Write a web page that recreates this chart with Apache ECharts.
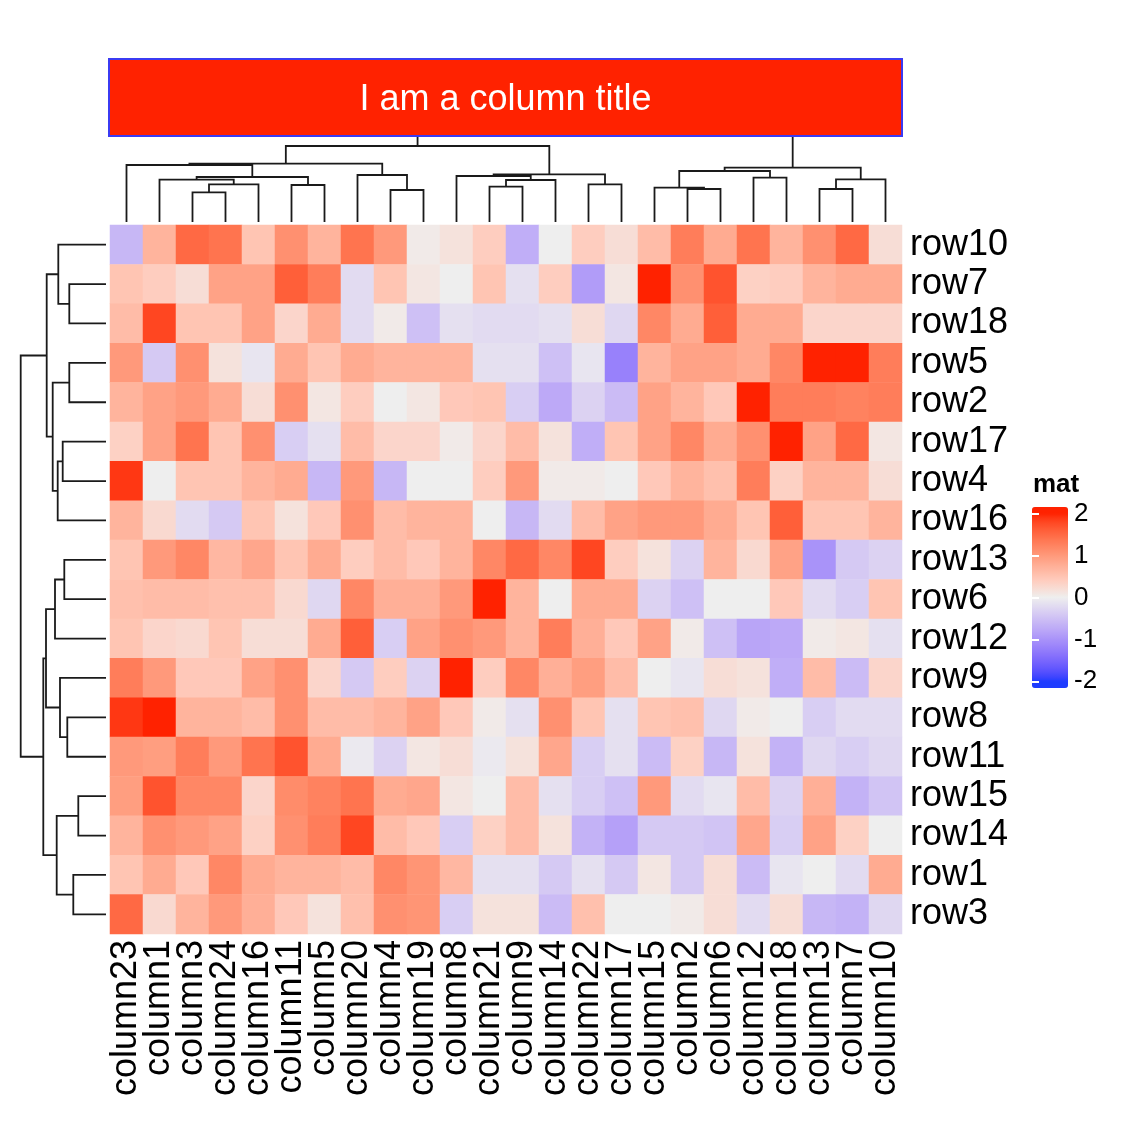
<!DOCTYPE html>
<html><head><meta charset="utf-8">
<script src="https://cdn.jsdelivr.net/npm/echarts@6/dist/echarts.min.js"></script>
<style>html,body{margin:0;padding:0;background:#fff}#c{width:1131px;height:1133px}</style>
</head><body><div id="c"></div>
<script>
// ---------------- data ----------------
const colNames = ['column23','column1','column3','column24','column16','column11','column5','column20','column4','column19','column8','column21','column9','column14','column22','column17','column15','column2','column6','column12','column18','column13','column7','column10'];
const rowNames = ['row10','row7','row18','row5','row2','row17','row4','row16','row13','row6','row12','row9','row8','row11','row15','row14','row1','row3'];

const row10 = [-0.6,0.7,1.5,1.4,0.5,1.1,0.7,1.4,1.0,0.05,0.15,0.4,-0.7,0.0,0.4,0.2,0.6,1.3,0.8,1.4,0.7,1.1,1.5,0.2];
const row7  = [0.5,0.4,0.2,0.9,0.9,1.6,1.3,-0.2,0.5,0.1,0.0,0.5,-0.15,0.4,-0.9,0.1,2.1,1.1,1.7,0.35,0.4,0.7,0.8,0.8];
const row18 = [0.6,1.8,0.5,0.5,0.9,0.3,0.8,-0.2,0.05,-0.5,-0.15,-0.2,-0.2,-0.15,0.2,-0.25,1.2,0.8,1.6,0.8,0.8,0.3,0.3,0.3];
const row5  = [1.0,-0.4,1.1,0.15,-0.1,0.8,0.5,0.8,0.7,0.7,0.7,-0.15,-0.15,-0.5,-0.1,-1.2,0.7,0.9,0.9,0.8,1.2,2.1,2.1,1.3];
const row2  = [0.7,0.9,1.0,0.8,0.2,1.1,0.1,0.4,0.0,0.1,0.45,0.5,-0.35,-0.75,-0.3,-0.55,0.9,0.7,0.45,2.1,1.3,1.3,1.25,1.3];
const row17 = [0.35,0.9,1.4,0.5,1.1,-0.35,-0.15,0.6,0.3,0.3,0.05,0.3,0.6,0.15,-0.7,0.5,0.9,1.2,0.8,1.1,2.1,0.9,1.5,0.1];
const row4  = [1.9,0.0,0.5,0.5,0.7,0.8,-0.6,1.0,-0.6,0.0,0.0,0.4,1.0,0.05,0.05,0.0,0.45,0.7,0.55,1.3,0.35,0.7,0.7,0.2];
const row16 = [0.7,0.25,-0.2,-0.4,0.5,0.15,0.45,1.1,0.6,0.7,0.7,0.0,-0.6,-0.2,0.6,0.9,1.0,1.0,0.8,0.5,1.6,0.5,0.5,0.7];
const row13 = [0.5,1.0,1.2,0.65,0.85,0.5,0.8,0.4,0.6,0.45,0.7,1.2,1.5,1.2,1.8,0.4,0.15,-0.3,0.7,0.25,0.9,-1.0,-0.4,-0.3];
const row6  = [0.55,0.6,0.6,0.55,0.55,0.25,-0.25,1.2,0.75,0.75,1.0,2.0,0.7,0.0,0.8,0.8,-0.3,-0.5,0.0,0.0,0.45,-0.2,-0.35,0.5];
const row12 = [0.5,0.3,0.25,0.5,0.2,0.2,0.8,1.6,-0.35,0.9,1.1,1.0,0.7,1.3,0.75,0.45,0.9,0.05,-0.5,-0.8,-0.75,0.05,0.1,-0.15];
const row9  = [1.3,1.0,0.45,0.45,0.9,1.1,0.3,-0.4,0.4,-0.3,2.0,0.4,1.2,0.75,0.95,0.6,0.0,-0.1,0.2,0.15,-0.7,0.6,-0.55,0.3];
const row8  = [1.9,2.1,0.7,0.7,0.6,1.1,0.6,0.6,0.7,0.9,0.45,0.05,-0.15,1.1,0.5,-0.15,0.5,0.55,-0.25,0.05,0.0,-0.35,-0.2,-0.2];
const row11 = [1.0,0.95,1.3,1.0,1.4,1.7,0.8,-0.05,-0.3,0.1,0.2,-0.05,0.15,0.85,-0.35,-0.15,-0.55,0.35,-0.6,0.15,-0.65,-0.25,-0.35,-0.25];
const row15 = [0.95,1.7,1.2,1.2,0.3,1.15,1.25,1.4,0.8,0.85,0.1,0.0,0.6,-0.15,-0.35,-0.5,1.0,-0.2,-0.1,0.6,-0.3,0.75,-0.65,-0.45];
const row14 = [0.7,1.1,1.0,0.9,0.35,1.1,1.3,1.8,0.6,0.45,-0.35,0.35,0.6,0.15,-0.65,-0.85,-0.4,-0.4,-0.45,0.85,-0.35,0.9,0.35,0.0];
const row1  = [0.5,0.8,0.45,1.2,0.8,0.7,0.7,0.6,1.2,1.05,0.65,-0.15,-0.15,-0.4,-0.15,-0.4,0.1,-0.4,0.2,-0.55,-0.1,0.0,-0.2,0.8];
const row3  = [1.5,0.25,0.7,1.0,0.75,0.45,0.15,0.55,1.1,1.05,-0.35,0.15,0.15,-0.55,0.55,0.0,0.0,0.05,0.2,-0.2,0.2,-0.6,-0.65,-0.25];

// dendrogram merges: negative = leaf -(displayIndex+1), non-negative = earlier merge index
const colMerges = [[-3,-4],[0,-5],[-2,1],[-6,-7],[2,3],[-1,4],[-9,-10],[-8,6],[5,7],[-12,-13],[9,-14],[-11,10],[-15,-16],[11,12],[8,13],
                   [-18,-19],[-17,15],[-20,-21],[16,17],[-22,-23],[19,-24],[18,20],[14,21]];
const colHeights = [29.7,37.7,42.3,37,45,57,32,47,58.3,35.3,42,46,37.7,47.7,76,33,34.3,44.3,51,33,42.7,54.3,86];
const rowMerges = [[-2,-3],[-1,0],[-4,-5],[-6,-7],[3,-8],[2,4],[1,5],[-9,-10],[7,-11],[-13,-14],[-12,9],[8,10],[-15,-16],[-17,-18],[12,13],[11,14],[6,15]];
const rowHeights = [36.7,47.7,36.7,43.3,48.3,53.3,59.3,41.7,51,38.7,46,60,27.7,32.7,49.3,62.7,85.3];

const legendTicks = [-2,-1,0,1,2];
const legendName = 'mat';
const titleText = 'I am a column title';

const matrix = [row10,row7,row18,row5,row2,row17,row4,row16,row13,row6,row12,row9,row8,row11,row15,row14,row1,row3];

// ---------------- colour ramp (LAB interpolation, like colorRamp2) ----------------
const BLUE = '#1E3CFF', MID = '#EEEEEE', RED = '#FF2200';
function hex2rgb(h){return [parseInt(h.slice(1,3),16),parseInt(h.slice(3,5),16),parseInt(h.slice(5,7),16)];}
function s2l(c){c/=255;return c<=0.04045?c/12.92:Math.pow((c+0.055)/1.055,2.4);}
function l2s(c){c=c<=0.0031308?12.92*c:1.055*Math.pow(Math.max(c,0),1/2.4)-0.055;return Math.round(Math.min(1,Math.max(0,c))*255);}
function rgb2lab(rgb){const [r,g,b]=rgb.map(s2l);
  const X=(0.4124*r+0.3576*g+0.1805*b)/0.95047,Y=0.2126*r+0.7152*g+0.0722*b,Z=(0.0193*r+0.1192*g+0.9505*b)/1.08883;
  const f=t=>t>0.008856?Math.cbrt(t):7.787*t+16/116;const fx=f(X),fy=f(Y),fz=f(Z);
  return [116*fy-16,500*(fx-fy),200*(fy-fz)];}
function lab2rgb(L){const fy=(L[0]+16)/116,fx=fy+L[1]/500,fz=fy-L[2]/200;
  const inv=t=>t*t*t>0.008856?t*t*t:(t-16/116)/7.787;
  const X=inv(fx)*0.95047,Y=inv(fy),Z=inv(fz)*1.08883;
  const r=3.2406*X-1.5372*Y-0.4986*Z,g=-0.9689*X+1.8758*Y+0.0415*Z,b=0.0557*X-0.2040*Y+1.0570*Z;
  return 'rgb('+l2s(r)+','+l2s(g)+','+l2s(b)+')';}
const labB=rgb2lab(hex2rgb(BLUE)),labM=rgb2lab(hex2rgb(MID)),labR=rgb2lab(hex2rgb(RED));
function ramp(v){v=Math.max(-2,Math.min(2,v));let a,b,t;
  if(v<0){a=labB;b=labM;t=(v+2)/2;}else{a=labM;b=labR;t=v/2;}
  return lab2rgb([a[0]+(b[0]-a[0])*t,a[1]+(b[1]-a[1])*t,a[2]+(b[2]-a[2])*t]);}
const VMIN=-2.16,VMAX=2.16,NSTOP=109;
const rampColors=[];for(let i=0;i<NSTOP;i++){rampColors.push(ramp(VMIN+(VMAX-VMIN)*i/(NSTOP-1)));}

// ---------------- build series data ----------------
const heatData=[];
matrix.forEach((r,ri)=>r.forEach((v,ci)=>heatData.push([ci,ri,v])));

function dendro(merges,heights,horizontal){
  const pos=[],segs=[];
  const info=ref=>ref<0?{p:-ref-1,h:0}:{p:pos[ref],h:heights[ref]};
  merges.forEach((m,i)=>{
    const a=info(m[0]),b=info(m[1]),h=heights[i];
    pos[i]=(a.p+b.p)/2;
    const pts=[[a.p,a.h],[a.p,h],[b.p,h],[b.p,b.h]];
    segs.push({coords:horizontal?pts.map(q=>[q[1],q[0]]):pts});
  });
  return segs;
}
const colSegs=dendro(colMerges,colHeights,false);
const rowSegs=dendro(rowMerges,rowHeights,true);

const FONT='"Liberation Sans", Arial, Helvetica, sans-serif';
const chart=echarts.init(document.getElementById('c'),null,{renderer:'canvas'});
const dLine={color:'#1a1a1a',width:1.8,opacity:1};
const hiddenVal=(o)=>Object.assign({type:'value',show:false,splitLine:{show:false}},o);

chart.setOption({
  animation:false,
  backgroundColor:'#ffffff',
  grid:[
    {left:110,top:225,width:792,height:709},
    {left:110,top:136,width:792,height:86},
    {left:20,top:225,width:86,height:709},
    {left:1032,top:507,width:36,height:181}
  ],
  xAxis:[
    {type:'category',gridIndex:0,data:colNames,position:'bottom',
     axisLine:{show:false},axisTick:{show:false},splitLine:{show:false},
     axisLabel:{rotate:90,interval:0,margin:6,fontSize:36,color:'#000',fontFamily:FONT}},
    hiddenVal({gridIndex:1,min:-0.5,max:colNames.length-0.5}),
    hiddenVal({gridIndex:2,min:0,max:86,inverse:true}),
    hiddenVal({gridIndex:3,min:0,max:1})
  ],
  yAxis:[
    {type:'category',gridIndex:0,data:rowNames,inverse:true,position:'right',
     axisLine:{show:false},axisTick:{show:false},splitLine:{show:false},
     axisLabel:{interval:0,margin:8,fontSize:36,color:'#000',fontFamily:FONT,padding:[6,0,0,0]}},
    hiddenVal({gridIndex:1,min:0,max:86}),
    hiddenVal({gridIndex:2,min:-0.5,max:rowNames.length-0.5,inverse:true}),
    {type:'value',gridIndex:3,min:VMIN,max:VMAX,position:'right',z:10,
     axisLine:{show:false},splitLine:{show:false},
     axisTick:{show:true,inside:true,length:7,lineStyle:{color:'#ffffff',width:2},customValues:legendTicks},
     axisLabel:{show:true,margin:6,fontSize:26,color:'#000',fontFamily:FONT,customValues:legendTicks,formatter:v=>String(v),padding:[4,0,0,0]}},
    {type:'value',gridIndex:3,min:VMIN,max:VMAX,position:'left',z:10,
     axisLine:{show:false},splitLine:{show:false},
     axisTick:{show:true,inside:true,length:7,lineStyle:{color:'#ffffff',width:2},customValues:legendTicks},
     axisLabel:{show:false}}
  ],
  visualMap:{type:'continuous',min:VMIN,max:VMAX,seriesIndex:0,calculable:false,hoverLink:false,
    orient:'vertical',left:1032,top:507,itemWidth:36,itemHeight:181,padding:0,text:null,showLabel:false,z:1,
    inRange:{color:rampColors}},
  graphic:[
    {type:'rect',z:100,shape:{x:109,y:59,width:793,height:77},style:{fill:RED,stroke:'#3b3bf2',lineWidth:2}},
    {type:'text',z:101,x:505.5,y:100,style:{text:titleText,fill:'#ffffff',fontSize:36,fontFamily:FONT,
      align:'center',verticalAlign:'middle',textAlign:'center',textVerticalAlign:'middle'}},
    {type:'text',z:101,x:1033,y:485,style:{text:legendName,fill:'#000',fontSize:26,fontWeight:'bold',fontFamily:FONT,
      align:'left',verticalAlign:'middle',textAlign:'left',textVerticalAlign:'middle'}}
  ],
  series:[
    {type:'heatmap',xAxisIndex:0,yAxisIndex:0,data:heatData,silent:true,emphasis:{disabled:true},itemStyle:{borderWidth:0}},
    {type:'lines',coordinateSystem:'cartesian2d',xAxisIndex:1,yAxisIndex:1,polyline:true,silent:true,data:colSegs,lineStyle:dLine},
    {type:'lines',coordinateSystem:'cartesian2d',xAxisIndex:2,yAxisIndex:2,polyline:true,silent:true,data:rowSegs,lineStyle:dLine}
  ]
});
</script></body></html>
